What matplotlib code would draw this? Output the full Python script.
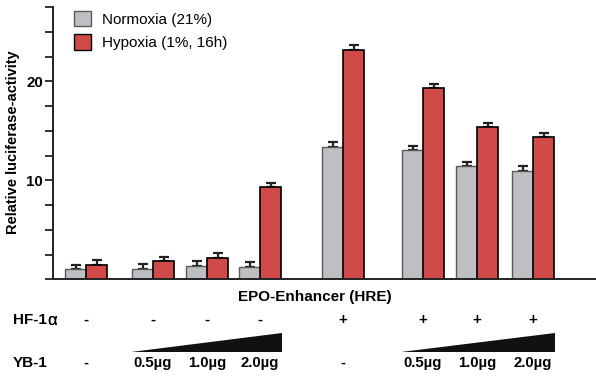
import matplotlib.pyplot as plt
from matplotlib.patches import Patch, Polygon
from matplotlib.transforms import blended_transform_factory

plt.rcParams['font.family'] = ['Liberation Sans', 'DejaVu Sans']

# luciferase readings, one pair per transfection condition
normoxia = [1.0, 1.05, 1.35, 1.2, 13.4, 13.05, 11.4, 10.95]
normoxia_err = [0.45, 0.45, 0.5, 0.5, 0.42, 0.45, 0.45, 0.5]
hypoxia = [1.45, 1.8, 2.15, 9.3, 23.2, 19.3, 15.35, 14.35]
hypoxia_err = [0.45, 0.45, 0.5, 0.45, 0.45, 0.45, 0.45, 0.45]
hif_row = ['-', '-', '-', '-', '+', '+', '+', '+']
yb1_row = ['-', '0.5µg', '1.0µg', '2.0µg', '-', '0.5µg', '1.0µg', '2.0µg']

# group centres along the x axis (bar width = 21 units)
group_x = [33, 100, 154, 207, 290, 370, 424, 480]
bw = 21

fig = plt.figure(figsize=(5.96, 3.76), dpi=100)
ax = fig.add_axes([53/596, (376-279.3)/376, 543/596, 272.3/376])

gray = '#bebfc2'
red = '#d04a4a'
xg = [x - bw/2 for x in group_x]
xr = [x + bw/2 for x in group_x]
ax.bar(xg, normoxia, width=bw, color=gray, edgecolor='#5a5a5e', linewidth=1.0, zorder=2)
ax.bar(xr, hypoxia, width=bw, color=red, edgecolor='black', linewidth=1.2, zorder=2)
ax.errorbar(xg, normoxia, yerr=[[0]*8, normoxia_err], fmt='none', ecolor='#222222',
            elinewidth=1.6, capsize=3.5, capthick=1.6, zorder=1)
ax.errorbar(xr, hypoxia, yerr=[[0]*8, hypoxia_err], fmt='none', ecolor='#222222',
            elinewidth=1.6, capsize=3.5, capthick=1.6, zorder=1)

ax.set_xlim(0, 543)
ax.set_ylim(0, 27.5)
ax.set_yticks([2.5*i for i in range(12)])
ax.set_yticklabels(['10' if i == 4 else '20' if i == 8 else '' for i in range(12)],
                   fontsize=10.8, fontweight='bold')
ax.tick_params(axis='y', length=5.8, width=1.3, pad=1.5, color='#222222')
ax.set_xticks([])
for s in ['top', 'right']:
    ax.spines[s].set_visible(False)
for s in ['left', 'bottom']:
    ax.spines[s].set_linewidth(1.4)
    ax.spines[s].set_color('#222222')

fig.text(13/596, 1 - 142/376, 'Relative luciferase-activity', rotation=90,
         ha='center', va='center', fontsize=10.5, fontweight='bold')

handles = [Patch(facecolor=gray, edgecolor='#5a5a5e', linewidth=1.0, label='Normoxia (21%)'),
           Patch(facecolor=red, edgecolor='black', linewidth=1.0, label='Hypoxia (1%, 16h)')]
fig.legend(handles=handles, loc='upper left', bbox_to_anchor=(74/596, 1 - 11/376),
           bbox_transform=fig.transFigure, frameon=False, fontsize=11,
           handlelength=1.1, handleheight=1.15, handletextpad=0.7,
           labelspacing=0.5, borderpad=0, borderaxespad=0)

# condition table under the axis
tr = blended_transform_factory(ax.transData, fig.transFigure)
fy = lambda y: 1 - y/376
fig.text(315/596, fy(297), 'EPO-Enhancer (HRE)', ha='center', va='center',
         fontsize=11, fontweight='bold')
hf = fig.text(13/596, fy(320), 'HF-1', ha='left', va='center', fontsize=11, fontweight='bold')
# plain-weight alpha placed right after the bold "HF-1"
fig.add_artist(ax.annotate('α', xy=(1, 0.5), xycoords=hf, xytext=(0.5, -0.5),
                           textcoords='offset points', ha='left', va='center',
                           fontsize=12, annotation_clip=False))
fig.text(13/596, fy(363), 'YB-1', ha='left', va='center', fontsize=11, fontweight='bold')
for x, h, y in zip(group_x, hif_row, yb1_row):
    ax.text(x, fy(320), h, transform=tr, ha='center', va='center', fontsize=11, fontweight='bold')
    ax.text(x, fy(363), y, transform=tr, ha='center', va='center', fontsize=10.7, fontweight='bold')

# dose wedges over the YB-1 amounts
for a, b in [(1, 3), (5, 7)]:
    x0 = group_x[a] - bw - 1
    x1 = group_x[b] + bw + 1
    wedge = Polygon([(x0, fy(352)), (x1, fy(352)), (x1, fy(333))], closed=True,
                    transform=tr, facecolor='#111111', edgecolor='none', clip_on=False)
    fig.add_artist(wedge)

fig.savefig('out.png', dpi=100)
